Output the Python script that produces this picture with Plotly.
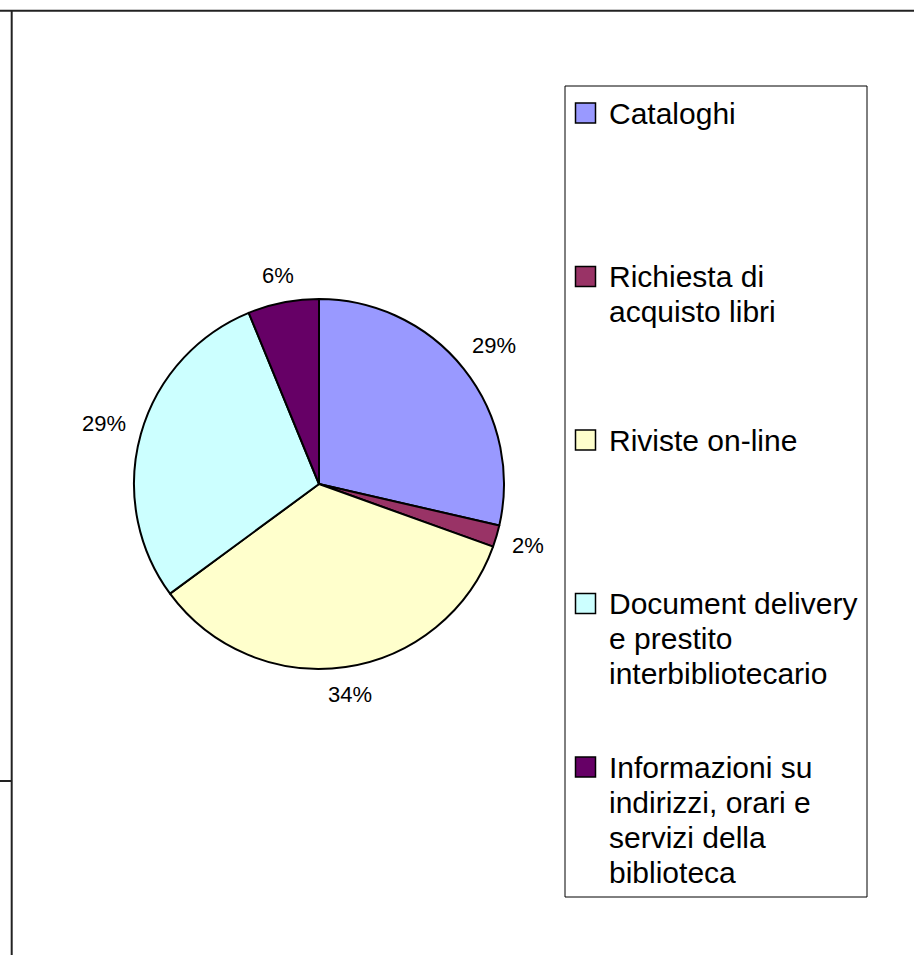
import math
import plotly.graph_objects as go

# ---- data ----
categories = [
    "Cataloghi",
    "Richiesta di acquisto libri",
    "Riviste on-line",
    "Document delivery e prestito interbibliotecario",
    "Informazioni su indirizzi, orari e servizi della biblioteca",
]
legend_lines = [
    ["Cataloghi"],
    ["Richiesta di", "acquisto libri"],
    ["Riviste on-line"],
    ["Document delivery", "e prestito", "interbibliotecario"],
    ["Informazioni su", "indirizzi, orari e", "servizi della", "biblioteca"],
]
values = [28.6, 1.9, 34.4, 28.9, 6.2]
colors = ["#9999FF", "#993366", "#FFFFCC", "#CCFFFF", "#660066"]

# ---- layout helpers (pixel -> paper) ----
W, H = 914, 955
FONT = "Liberation Sans, Arial, sans-serif"


def px(x):
    return x / W


def py(y):
    return 1 - y / H


CX, CY, R = 319, 484, 185

fig = go.Figure()
fig.add_trace(go.Pie(
    labels=categories,
    values=values,
    marker=dict(colors=colors, line=dict(color="black", width=2)),
    sort=False,
    direction="clockwise",
    rotation=0,
    textinfo="none",
    hoverinfo="label+percent",
    showlegend=False,
    domain=dict(x=[px(CX - R), px(CX + R)], y=[py(CY + R), py(CY - R)]),
))

annotations = []
shapes = []

# percentage labels outside each slice, placed from the slice mid-angle
total = sum(values)
cum = 0.0
for v in values:
    mid = (cum + v / 2) / total * 2 * math.pi
    cum += v
    txt = f"{round(v / total * 100)}%"
    hw = (len(txt) - 1) * 0.556 * 22 / 2 + 0.889 * 22 / 2
    hh = 11
    s, c = math.sin(mid), math.cos(mid)
    dist = R + 14 + abs(s) * hw + abs(c) * hh
    x = CX + dist * s
    y = CY - dist * c
    annotations.append(dict(
        x=px(x), y=py(y), xref="paper", yref="paper", text=txt,
        showarrow=False, xanchor="center", yanchor="middle",
        font=dict(family=FONT, size=22, color="black"),
    ))

# legend box
shapes.append(dict(type="rect", xref="paper", yref="paper",
                   x0=px(565), x1=px(867), y0=py(897), y1=py(86),
                   line=dict(color="black", width=1), fillcolor="white", layer="below"))
SLOT0, SLOT = 113, 163.5
LINE = 35
for i, (lines, col) in enumerate(zip(legend_lines, colors)):
    yc = SLOT0 + i * SLOT
    shapes.append(dict(type="rect", xref="paper", yref="paper",
                       x0=px(575.5), x1=px(595.5), y0=py(yc + 10), y1=py(yc - 10),
                       line=dict(color="black", width=1.5), fillcolor=col))
    for k, t in enumerate(lines):
        annotations.append(dict(
            x=px(607), y=py(yc + k * LINE), xref="paper", yref="paper", text=t,
            showarrow=False, xanchor="left", yanchor="middle",
            font=dict(family=FONT, size=30, color="black"),
        ))

# frame lines (worksheet borders)
for (x0, y0, x1, y1) in [(0, 10.7, W, 10.7), (11.7, 10.7, 11.7, H), (0, 781, 11.7, 781)]:
    shapes.append(dict(type="line", xref="paper", yref="paper",
                       x0=px(x0), y0=py(y0), x1=px(x1), y1=py(y1),
                       line=dict(color="#222222", width=2)))

fig.update_layout(
    width=W, height=H,
    margin=dict(l=0, r=0, t=0, b=0),
    paper_bgcolor="white", plot_bgcolor="white",
    annotations=annotations, shapes=shapes,
    font=dict(family=FONT),
)

fig.write_html(
    "out.html",
    config={"displayModeBar": False},
    post_script="document.body.style.margin='0px';document.body.style.overflow='hidden';",
)
